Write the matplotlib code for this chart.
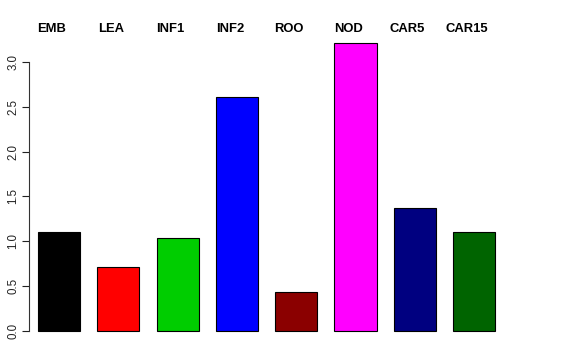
import matplotlib
matplotlib.use("Agg")
import matplotlib.pyplot as plt

plt.rcParams['font.family'] = ['Liberation Sans', 'DejaVu Sans']

tissues = ['EMB', 'LEA', 'INF1', 'INF2', 'ROO', 'NOD', 'CAR5', 'CAR15']
values = [1.10, 0.71, 1.04, 2.61, 0.43, 3.21, 1.37, 1.10]
colors = ['black', 'red', '#00CD00', 'blue', '#8B0000', 'magenta', '#000080', '#006400']

fig = plt.figure(figsize=(5.76, 3.6), dpi=100)
ax = fig.add_axes([29 / 576, 17.5 / 360, (515 - 29) / 576, 310.9 / 360])

x = list(range(len(tissues)))
ax.bar(x, values, width=0.71, color=colors, edgecolor='black', linewidth=0.8)

ax.set_xlim(-0.506, 7.69)
ax.set_ylim(-0.128, 3.338)
ax.set_yticks([0, 0.5, 1.0, 1.5, 2.0, 2.5, 3.0])
ax.set_yticklabels(['0.0', '0.5', '1.0', '1.5', '2.0', '2.5', '3.0'],
                   rotation=90, va='center', fontsize=8.3)
ax.tick_params(axis='y', length=5, width=0.8, pad=2, colors='#222222')
ax.set_xticks([])

for side in ['top', 'right', 'bottom']:
    ax.spines[side].set_visible(False)
ax.spines['left'].set_bounds(0, 3)
ax.spines['left'].set_linewidth(0.8)
ax.spines['left'].set_color('#333333')

for i, name in enumerate(tissues):
    ax.text(i - 0.12, 3.368, name, ha='center', va='center',
            fontsize=9.4, fontweight='bold', clip_on=False)

fig.savefig('out.png', dpi=100)
